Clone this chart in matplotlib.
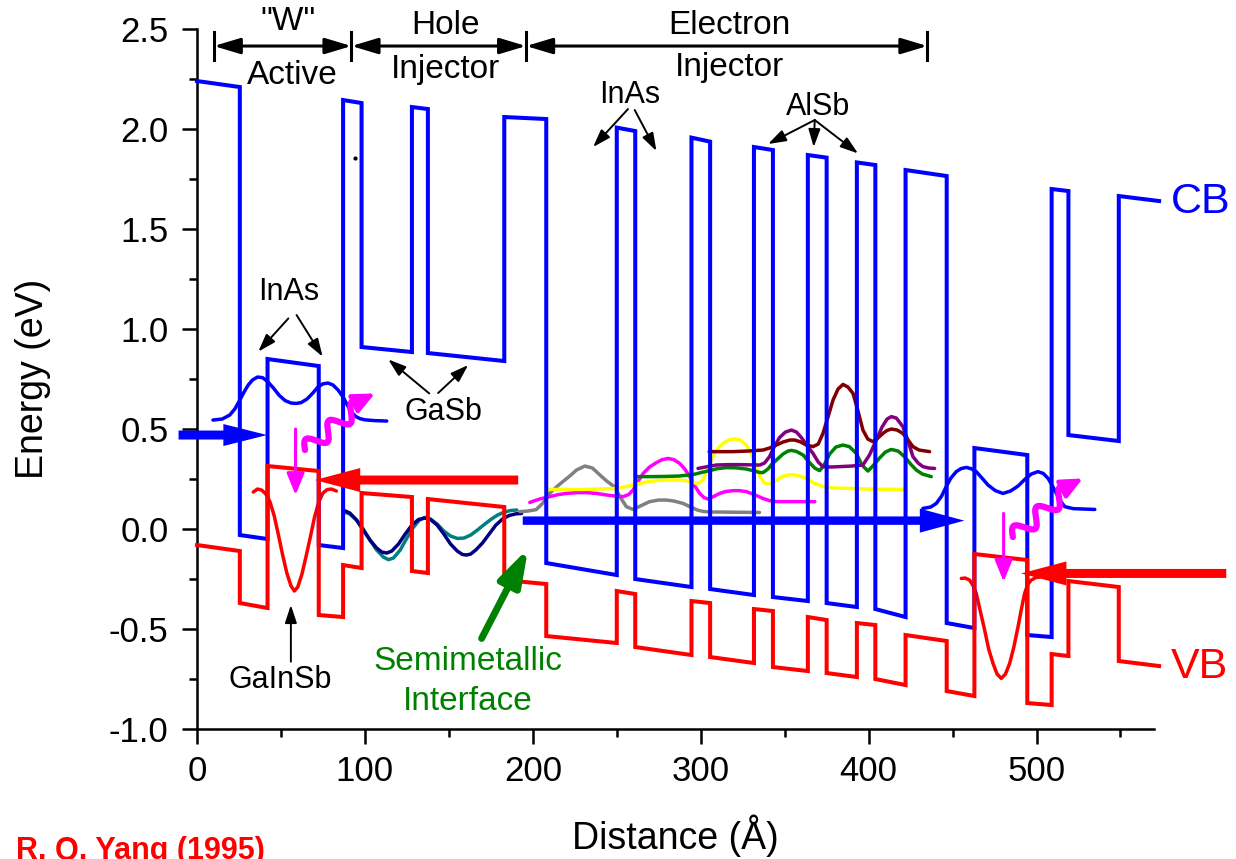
"""Band diagram of a type-II interband cascade stage (CB/VB with wavefunctions)."""
import numpy as np
import matplotlib
matplotlib.use("Agg")
import matplotlib.pyplot as plt
from matplotlib.ticker import MultipleLocator, FormatStrFormatter

plt.rcParams['font.family'] = ['Liberation Sans', 'DejaVu Sans']
plt.rcParams['axes.unicode_minus'] = False

# layer edges (Angstrom) and band edges at the start / end of each layer (eV)
x_edges = [0, 25.5, 42, 72.5, 87, 98, 128, 137.5, 183, 208, 250, 261, 294.5,
           305.6, 331.7, 343, 363.8, 375, 393, 404, 422, 446.5, 463, 494.5,
           509, 519, 549, 573]
cb_start = [2.24, -0.03, 0.85, -0.08, 2.145, 0.91, 2.11, 0.88, 2.06, -0.17,
            2.007, -0.25, 1.957, -0.30, 1.91, -0.34, 1.87, -0.37, 1.833,
            -0.40, 1.795, -0.47, 0.405, -0.53, 1.70, 0.47, 1.665]
cb_end = [2.21, -0.05, 0.815, -0.095, 2.13, 0.885, 2.10, 0.84, 2.05, -0.23,
          1.99, -0.29, 1.937, -0.33, 1.895, -0.36, 1.857, -0.39, 1.82,
          -0.44, 1.765, -0.495, 0.37, -0.54, 1.69, 0.44, 1.64]
vb_start = [-0.08, -0.37, 0.315, -0.43, -0.18, 0.18, -0.21, 0.15, -0.255,
            -0.535, -0.31, -0.59, -0.36, -0.64, -0.40, -0.69, -0.44, -0.72,
            -0.47, -0.75, -0.53, -0.81, -0.125, -0.87, -0.625, -0.26, -0.66]
vb_end = [-0.11, -0.395, 0.29, -0.44, -0.195, 0.16, -0.22, 0.11, -0.275,
          -0.57, -0.325, -0.63, -0.37, -0.67, -0.41, -0.71, -0.455, -0.74,
          -0.48, -0.78, -0.56, -0.835, -0.155, -0.88, -0.635, -0.29, -0.685]

# wavefunctions, offset to their subband energies
wf_w1_e_x = [9.5, 15, 19.5, 22.5, 25.5, 28, 30.5, 33, 36, 39, 42, 45.5, 49,
             52.5, 56, 59, 62, 65.5, 69, 72, 75, 78, 81, 84, 87, 89.5, 92,
             94.5, 97, 100, 106, 113]
wf_w1_e_y = [0.545, 0.55, 0.57, 0.60, 0.645, 0.685, 0.72, 0.745, 0.76, 0.757,
             0.738, 0.705, 0.668, 0.642, 0.630, 0.628, 0.632, 0.65, 0.68,
             0.71, 0.726, 0.73, 0.72, 0.695, 0.66, 0.62, 0.585, 0.563, 0.552,
             0.546, 0.542, 0.54]
wf_w1_h_x = [33.5, 36, 38.5, 41, 43.5, 46, 48.5, 51, 53.5, 56, 58, 60, 62.5,
             65, 67.5, 70, 72.5, 75, 77.5, 80, 83]
wf_w1_h_y = [0.185, 0.2, 0.195, 0.175, 0.135, 0.065, -0.03, -0.13, -0.22,
             -0.285, -0.31, -0.29, -0.225, -0.135, -0.04, 0.06, 0.135, 0.18,
             0.197, 0.2, 0.19]
wf_navy_x = [87, 91, 95, 99, 103, 107, 110, 113, 116, 120, 124, 128, 132,
             135.7, 139, 143, 147, 151, 155, 158, 160.5, 163, 166, 170, 174,
             178, 182, 186, 190, 193.3]
wf_navy_y = [0.095, 0.08, 0.045, -0.005, -0.055, -0.095, -0.115, -0.12,
             -0.11, -0.075, -0.025, 0.02, 0.048, 0.055, 0.048, 0.02, -0.025,
             -0.075, -0.11, -0.127, -0.13, -0.125, -0.105, -0.07, -0.025,
             0.02, 0.05, 0.068, 0.076, 0.078]
wf_teal_x = [87, 91, 95, 99, 103, 107, 111, 114, 117, 121, 125, 129, 132.5,
             135.7, 139, 143, 147, 151, 155, 159, 163, 167, 171, 175, 179,
             183, 187, 190.5]
wf_teal_y = [0.087, 0.075, 0.045, 0.0, -0.055, -0.105, -0.14, -0.153,
             -0.145, -0.105, -0.045, 0.01, 0.045, 0.058, 0.05, 0.025, -0.01,
             -0.035, -0.047, -0.045, -0.03, -0.005, 0.022, 0.048, 0.07,
             0.085, 0.093, 0.095]
wf_gray_x = [192.3, 197, 202, 206, 210, 214, 218, 222, 226, 231, 235.5, 240,
             244, 248.8, 252, 255.7, 259.7, 264, 269.6, 275, 279.5, 284,
             289.5, 294, 298, 301.4, 306, 311.3, 320, 335]
wf_gray_y = [0.087, 0.09, 0.097, 0.13, 0.178, 0.21, 0.238, 0.265, 0.295,
             0.315, 0.305, 0.27, 0.24, 0.21, 0.16, 0.112, 0.098, 0.115, 0.137,
             0.145, 0.145, 0.14, 0.128, 0.11, 0.095, 0.088, 0.085, 0.085,
             0.084, 0.083]
wf_magenta_x = [198.2, 204, 210, 215, 220, 226, 232, 238, 244, 249, 253.8,
                257, 259.7, 262.5, 265.7, 269.5, 273.6, 277, 280.6, 284,
                287.5, 290.5, 293.5, 296.5, 299.4, 302, 304.4, 307.5, 311.3,
                315, 319.3, 323, 327.2, 332, 337, 341, 345, 355, 368]
wf_magenta_y = [0.133, 0.15, 0.162, 0.172, 0.178, 0.182, 0.182, 0.178, 0.17,
                0.165, 0.162, 0.172, 0.195, 0.235, 0.278, 0.31, 0.332, 0.347,
                0.353, 0.347, 0.328, 0.3, 0.262, 0.215, 0.178, 0.157, 0.15,
                0.162, 0.178, 0.188, 0.192, 0.192, 0.187, 0.172, 0.153,
                0.142, 0.137, 0.137, 0.137]
wf_yellow_x = [208.1, 220, 230, 240, 249.8, 257, 263.7, 268, 273.6, 280,
               285.5, 291, 295, 297.4, 299.5, 301.4, 304, 307.3, 310.5,
               313.3, 316.5, 320.2, 323.5, 327.2, 330.5, 333.1, 335.5, 338.1,
               340.5, 343.1, 346, 349, 352, 355, 359, 362.9, 367, 372.8, 380,
               388.7, 400, 421.4]
wf_yellow_y = [0.198, 0.198, 0.198, 0.2, 0.203, 0.215, 0.228, 0.236, 0.242,
               0.245, 0.245, 0.242, 0.235, 0.228, 0.232, 0.245, 0.3, 0.362,
               0.405, 0.428, 0.445, 0.45, 0.445, 0.42, 0.37, 0.312, 0.26,
               0.23, 0.225, 0.232, 0.25, 0.263, 0.27, 0.272, 0.265, 0.253,
               0.232, 0.212, 0.205, 0.203, 0.2, 0.198]
wf_green_x = [261.7, 270, 279.5, 287, 295.4, 300, 305.3, 310, 315.2, 321,
              327.2, 332, 335, 337.1, 340, 342.5, 345.1, 349, 352, 354, 357,
              361, 364.5, 367.9, 370.8, 373.5, 376.8, 380.5, 384.7, 388.5,
              392.7, 396, 399.6, 403, 406.5, 410, 413.5, 417.5, 421.4, 425,
              428.4, 432, 437.3]
wf_green_y = [0.262, 0.262, 0.263, 0.265, 0.272, 0.282, 0.292, 0.302, 0.307,
              0.306, 0.3, 0.29, 0.283, 0.282, 0.3, 0.325, 0.345, 0.375, 0.39,
              0.393, 0.388, 0.37, 0.335, 0.305, 0.292, 0.32, 0.375, 0.41,
              0.42, 0.412, 0.378, 0.32, 0.29, 0.32, 0.355, 0.385, 0.398,
              0.39, 0.362, 0.325, 0.295, 0.275, 0.262]
wf_purple_x = [298.4, 304, 309.3, 316, 323.2, 329, 335.1, 338, 341, 344, 347,
               350.5, 354, 357, 359.9, 363.5, 366.9, 370, 372.8, 377, 382.7,
               390, 396.6, 400.5, 404.6, 408, 411, 413.5, 416.5, 420.4, 423.5,
               426.4, 429.5, 432.3, 436, 439.3]
wf_purple_y = [0.303, 0.312, 0.32, 0.322, 0.322, 0.321, 0.32, 0.33, 0.362,
               0.415, 0.458, 0.485, 0.495, 0.485, 0.458, 0.415, 0.378, 0.335,
               0.312, 0.31, 0.312, 0.315, 0.32, 0.37, 0.445, 0.51, 0.55,
               0.562, 0.555, 0.512, 0.44, 0.362, 0.33, 0.312, 0.305, 0.303]
wf_maroon_x = [305, 312, 319.3, 328, 337.1, 341, 345.1, 349, 353.1, 356, 359,
               363, 366.9, 370, 372.8, 375.8, 378.8, 381.8, 384.7, 387.7,
               390.7, 393.7, 396.6, 399.5, 402.6, 405.5, 408.5, 411, 413.5,
               417, 420.4, 423.5, 426.4, 430, 436.3]
wf_maroon_y = [0.387, 0.387, 0.387, 0.39, 0.395, 0.405, 0.42, 0.435, 0.445,
               0.445, 0.437, 0.42, 0.412, 0.425, 0.478, 0.56, 0.645, 0.7,
               0.723, 0.71, 0.678, 0.59, 0.495, 0.45, 0.437, 0.455, 0.478,
               0.493, 0.5, 0.495, 0.478, 0.445, 0.412, 0.395, 0.387]
wf_w2_e_x = [432.3, 437, 440.3, 443.5, 446.2, 449, 452.2, 455, 458.2, 461,
             464.1, 467.5, 471.1, 475.5, 480, 484.5, 489, 493, 496.9, 500.9,
             504, 506.9, 509.5, 511.8, 514.3, 516.8, 521.8, 528, 534.7]
wf_w2_e_y = [0.103, 0.11, 0.128, 0.165, 0.212, 0.255, 0.287, 0.302, 0.308,
             0.302, 0.287, 0.255, 0.22, 0.192, 0.178, 0.19, 0.215, 0.248,
             0.275, 0.287, 0.278, 0.253, 0.215, 0.178, 0.14, 0.112, 0.102,
             0.1, 0.098]
wf_w2_h_x = [455.2, 457.5, 460.1, 462, 464.1, 466.5, 469.1, 471.5, 474.1,
             476.5, 479, 481.5, 484, 486.5, 489, 491, 492.9, 494.9, 496.9,
             499.5, 501.9]
wf_w2_h_y = [-0.247, -0.245, -0.255, -0.28, -0.322, -0.41, -0.505, -0.6,
             -0.672, -0.725, -0.747, -0.725, -0.672, -0.59, -0.488, -0.4,
             -0.322, -0.275, -0.255, -0.243, -0.24]

# section brackets across the top
bracket_edges = [10, 92, 196, 435]
bracket_level = 2.415


def band_path(start, end):
    """Turn per-layer start/end energies into a stepped band edge."""
    xs, ys = [], []
    for i in range(len(start)):
        xs += [x_edges[i], x_edges[i + 1]]
        ys += [start[i], end[i]]
    return xs, ys


def pointer(ax, tail, tip, color="black", lw=1.4, scale=12, hl=0.9, hw=0.3):
    """Straight arrow with a filled head from tail to tip."""
    ax.annotate("", xy=tip, xytext=tail, annotation_clip=False,
                arrowprops=dict(arrowstyle="-|>,head_length=%g,head_width=%g"
                                % (hl, hw), color=color, lw=lw,
                                mutation_scale=scale, shrinkA=0, shrinkB=0),
                zorder=5)


def photon(ax, start, end, color="#ff00ff", waves=2.5, amp=8.0):
    """Wavy photon arrow, drawn in pixel space and mapped back to data."""
    p0 = ax.transData.transform(start)
    p1 = ax.transData.transform(end)
    d = p1 - p0
    length = np.hypot(*d)
    u = d / length
    nrm = np.array([-u[1], u[0]])
    body = length - 16
    t = np.linspace(0, 1, 200)
    pts = (p0 + np.outer(t * body, u)
           + np.outer(amp * np.sin(2 * np.pi * waves * t), nrm))
    data = ax.transData.inverted().transform(pts)
    ax.plot(data[:, 0], data[:, 1], color=color, lw=4.5,
            solid_capstyle="round", zorder=5, clip_on=False)
    pointer(ax, tuple(data[-8]), end, color=color, lw=3, scale=12,
            hl=1.1, hw=0.5)


fig = plt.figure(figsize=(12.36, 8.59), dpi=100)
ax = fig.add_axes([0.1594, 0.1513, 0.7743, 0.8149])
ax.set_xlim(0, 570)
ax.set_ylim(-1.0, 2.5)

# wavefunctions
wave_sets = [(wf_w1_e_x, wf_w1_e_y, "#0000ff"),
             (wf_w1_h_x, wf_w1_h_y, "#ff0000"),
             (wf_teal_x, wf_teal_y, "#008080"),
             (wf_navy_x, wf_navy_y, "#000080"),
             (wf_gray_x, wf_gray_y, "#808080"),
             (wf_magenta_x, wf_magenta_y, "#ff00ff"),
             (wf_yellow_x, wf_yellow_y, "#ffff00"),
             (wf_green_x, wf_green_y, "#008000"),
             (wf_purple_x, wf_purple_y, "#800080"),
             (wf_maroon_x, wf_maroon_y, "#800000"),
             (wf_w2_e_x, wf_w2_e_y, "#0000ff"),
             (wf_w2_h_x, wf_w2_h_y, "#ff0000")]
for wx, wy, col in wave_sets:
    ax.plot(wx, wy, color=col, lw=2.5, zorder=2, solid_capstyle="round")

# band edges
cx, cy = band_path(cb_start, cb_end)
vx, vy = band_path(vb_start, vb_end)
ax.plot(cx, cy, color="#0000ff", lw=2.9, zorder=3, clip_on=False,
        solid_joinstyle="miter")
ax.plot(vx, vy, color="#ff0000", lw=2.9, zorder=3, clip_on=False,
        solid_joinstyle="miter")

# carrier flow arrows
arrow_kw = dict(length_includes_head=True, lw=0, clip_on=False, zorder=4)
ax.arrow(-11, 0.47, 52.7, 0, width=0.045, head_width=0.11, head_length=26,
         color="#0000ff", **arrow_kw)
ax.arrow(194, 0.042, 263, 0, width=0.042, head_width=0.12, head_length=26.5,
         color="#0000ff", **arrow_kw)
ax.arrow(191.3, 0.245, -121.1, 0, width=0.045, head_width=0.12,
         head_length=27, color="#ff0000", **arrow_kw)
ax.arrow(613, -0.222, -122.2, 0, width=0.045, head_width=0.12,
         head_length=27, color="#ff0000", **arrow_kw)

# optical transitions
pointer(ax, (58.7, 0.50), (58.7, 0.17), color="#ff00ff", lw=2.2, hl=1.1,
        hw=0.45)
pointer(ax, (480.4, 0.078), (480.4, -0.263), color="#ff00ff", lw=2.2,
        hl=1.1, hw=0.45)
photon(ax, (64.3, 0.395), (106, 0.678))
photon(ax, (485.9, -0.04), (527.6, 0.253))

# semimetallic interface arrow
pointer(ax, (169.5, -0.547), (197.2, -0.097), color="green", lw=5,
        scale=20, hl=1.1, hw=0.35)

# section brackets
for x in bracket_edges:
    ax.plot([x, x], [2.345, 2.485], color="black", lw=2.2, clip_on=False)
for a, b in zip(bracket_edges[:-1], bracket_edges[1:]):
    ax.annotate("", xy=(b, bracket_level), xytext=(a, bracket_level),
                annotation_clip=False,
                arrowprops=dict(arrowstyle="<|-|>,head_length=1.0,"
                                "head_width=0.3", color="black", lw=2.2,
                                mutation_scale=16, shrinkA=0, shrinkB=0))

txt = dict(ha="center", va="center", fontsize=24, zorder=6)
ax.text(54, 2.536, '"W"', **txt)
ax.text(57, 2.27, "Active", **txt)
ax.text(148, 2.52, "Hole", **txt)
ax.text(148, 2.30, "Injector", **txt)
ax.text(317, 2.52, "Electron", **txt)
ax.text(317, 2.31, "Injector", **txt)

# layer labels
lbl = dict(ha="center", va="center", fontsize=22, zorder=6)
ax.text(257.7, 2.17, "InAs", **lbl)
pointer(ax, (256.7, 2.10), (235.9, 1.91))
pointer(ax, (260.7, 2.095), (273.6, 1.89))
ax.text(369.8, 2.11, "AlSb", **lbl)
pointer(ax, (367.9, 2.045), (340.1, 1.925))
pointer(ax, (367.9, 2.045), (367.3, 1.91))
pointer(ax, (367.9, 2.045), (393.7, 1.878))
ax.text(54.4, 1.186, "InAs", **lbl)
pointer(ax, (54.4, 1.053), (36.5, 0.887))
pointer(ax, (59.3, 1.07), (74.8, 0.862))
ax.text(146.6, 0.587, "GaSb", **lbl)
pointer(ax, (138.3, 0.678), (113.9, 0.848))
pointer(ax, (143.6, 0.68), (161.5, 0.82))
ax.text(49.4, -0.755, "GaInSb", **lbl)
pointer(ax, (55.9, -0.663), (55.9, -0.38))
ax.text(161.5, -0.663, "Semimetallic", color="green", **txt)
ax.text(161.5, -0.863, "Interface", color="green", **txt)
ax.plot([94], [1.853], marker="o", ms=2, color="black")

ax.text(580, 1.636, "CB", color="#0000ff", fontsize=31, ha="left",
        va="center")
ax.text(580, -0.69, "VB", color="#ff0000", fontsize=31, ha="left",
        va="center")

# axes styling
for side in ["top", "right"]:
    ax.spines[side].set_visible(False)
for side in ["left", "bottom"]:
    ax.spines[side].set_linewidth(1.8)
ax.xaxis.set_major_locator(MultipleLocator(100))
ax.xaxis.set_minor_locator(MultipleLocator(50))
ax.yaxis.set_major_locator(MultipleLocator(0.5))
ax.yaxis.set_minor_locator(MultipleLocator(0.25))
ax.yaxis.set_major_formatter(FormatStrFormatter("%.1f"))
ax.tick_params(which="major", length=10.5, width=1.8, labelsize=25)
ax.tick_params(which="minor", length=6, width=1.8)
ax.tick_params(axis="y", which="major", pad=10)
ax.tick_params(axis="x", which="major", pad=8)

fig.text(33 / 1236, 1 - 379 / 859, "Energy (eV)", rotation=90, ha="center",
         va="center", fontsize=27)
fig.text(675 / 1236, 1 - 836 / 859, "Distance (Å)", ha="center",
         va="center", fontsize=27)
fig.text(265 / 1236, 1 - 836 / 859, "R. Q. Yang (1995)", ha="right",
         va="top", fontsize=22, fontweight="bold", color="#ff0000")

plt.savefig("out.png", dpi=100)
